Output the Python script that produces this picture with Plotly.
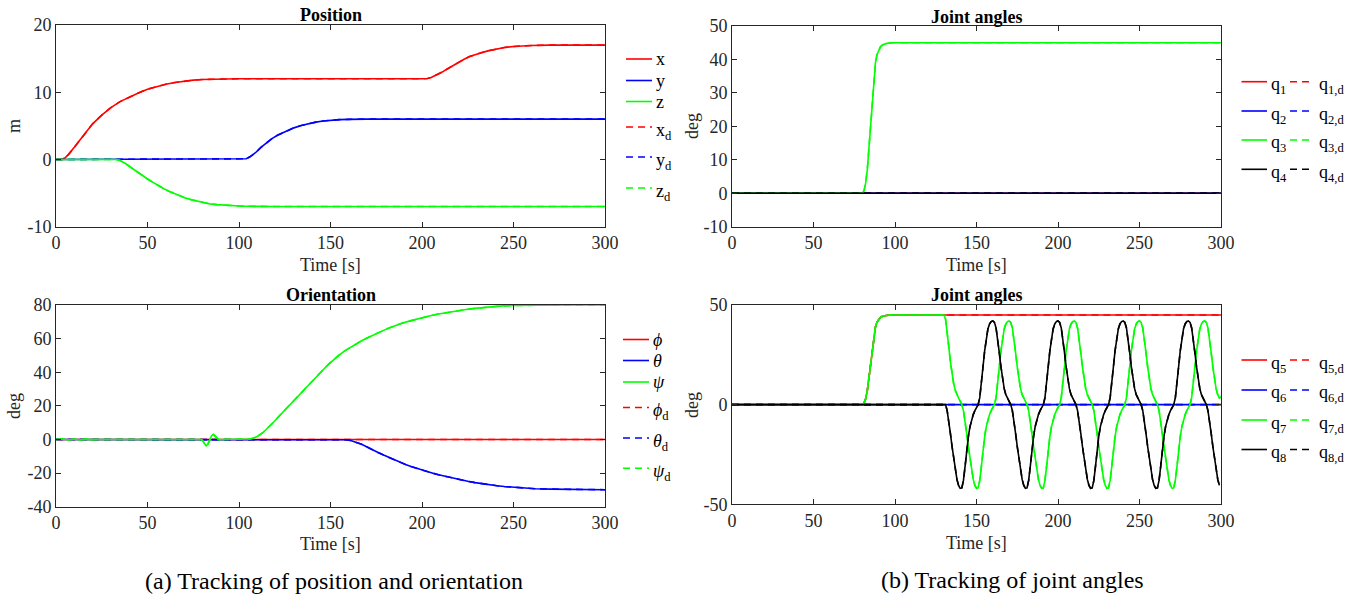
import plotly.graph_objects as go

W, H = 1361, 599
FONT = "Liberation Serif"
AXC = "#262626"
RED, BLUE, GREEN, BLACK = "#ff0000", "#0000ff", "#00ff00", "#000000"

# ---------------- data: Position ----------------
t_x = [0, 3, 5, 7, 10, 13, 16, 20, 25, 30, 35, 40, 45, 50, 55, 60, 65, 70, 75, 80, 90, 100,
       200, 203, 205, 208, 211, 214, 217, 220, 223, 226, 229, 232, 236, 240, 245, 250, 255, 260, 270, 300]
pos_x = [0, 0, 0.25, 0.8, 1.8, 2.9, 4.0, 5.3, 6.6, 7.7, 8.6, 9.3, 9.9, 10.45, 10.85, 11.2, 11.45, 11.65, 11.8, 11.9, 11.97, 12,
         12, 12.05, 12.2, 12.55, 13.0, 13.5, 14.0, 14.45, 14.9, 15.3, 15.6, 15.85, 16.15, 16.4, 16.65, 16.8, 16.9, 16.96, 17, 17]
t_y = [0, 102, 104, 106, 109, 112, 115, 118, 121, 124, 127, 130, 134, 138, 142, 146, 150, 155, 160, 170, 300]
pos_y = [0, 0, 0.1, 0.4, 1.0, 1.8, 2.5, 3.1, 3.6, 4.0, 4.4, 4.7, 5.05, 5.35, 5.55, 5.72, 5.83, 5.92, 5.97, 6, 6]
t_z = [0, 33, 35, 38, 41, 44, 47, 50, 53, 56, 59, 62, 65, 68, 71, 74, 77, 80, 84, 88, 94, 100, 110, 120, 300]
pos_z = [0, 0, -0.15, -0.6, -1.2, -1.8, -2.4, -2.9, -3.4, -3.9, -4.35, -4.75, -5.1, -5.45, -5.75, -6.0, -6.2, -6.4,
         -6.6, -6.72, -6.85, -6.92, -6.98, -7, -7]

# ---------------- data: Orientation ----------------
t_phi = [0, 300]
phi = [0, 0]
t_theta = [0, 30, 33, 36, 40, 43, 155, 158, 161, 164, 167, 170, 173, 176, 179, 182, 185, 188, 191, 194, 197, 200,
           203, 206, 209, 212, 215, 218, 221, 225, 229, 233, 237, 241, 245, 250, 256, 262, 270, 280, 290, 300]
theta = [0, 0, -0.3, -0.4, -0.1, 0, 0, -0.2, -0.6, -1.6, -2.9, -4.5, -6.3, -7.8, -9.3, -10.8, -12.3, -13.6, -14.9,
         -16.1, -17.2, -18.2, -19.2, -20.1, -21.0, -21.8, -22.6, -23.4, -24.1, -24.9, -25.7, -26.4, -27.0, -27.5,
         -28.0, -28.5, -28.95, -29.3, -29.55, -29.75, -29.85, -29.9]
t_psi = [0, 4, 7, 10, 13, 16, 19, 22, 79, 80, 81, 82, 83, 84, 85, 86, 87, 88, 89, 90, 104, 106, 108, 110, 113, 116,
         119, 122, 125, 128, 131, 134, 137, 140, 143, 146, 149, 152, 155, 158, 161, 164, 167, 170, 173, 176, 179, 182,
         185, 189, 193, 197, 201, 205, 209, 214, 219, 224, 229, 234, 239, 244, 250, 256, 265, 280, 300]
psi = [0, 0.3, -0.3, 0.3, -0.3, 0.2, -0.1, 0, 0, -0.4, -2.2, -3.8, -2.8, -0.2, 2.2, 3.0, 2.0, 0.6, -0.2, 0, 0, 0.3,
       0.9, 1.8, 4.0, 7.0, 10.4, 14.0, 17.5, 21.0, 24.5, 27.8, 31.2, 34.6, 38.0, 41.5, 44.8, 47.8, 50.5, 52.9, 55.0,
       56.9, 58.7, 60.4, 62.0, 63.5, 64.9, 66.3, 67.6, 69.1, 70.4, 71.6, 72.7, 73.7, 74.6, 75.6, 76.5, 77.3, 78.0,
       78.6, 79.1, 79.45, 79.7, 79.85, 79.95, 80, 80]

# ---------------- data: Joint angles q1..q4 ----------------
t_flat = [0, 300]
q1 = [0, 0]
q2 = [0, 0]
q4 = [0, 0]
t_q3 = [0, 80, 81, 82, 83, 84, 85, 86, 87, 88, 89, 90, 91, 92, 93, 95, 98, 300]
q3 = [0, 0, 0.8, 3, 7, 13.5, 21.5, 29, 35, 39, 41.5, 42.8, 43.7, 44.2, 44.5, 44.8, 45, 45]

# ---------------- data: Joint angles q5..q8 ----------------
t_q5 = [0, 80, 81, 82, 83, 84, 85, 86, 87, 88, 89, 90, 91, 92, 93, 95, 98, 300]
q5 = [0, 0, 0.8, 3, 7, 13.5, 21.5, 29, 35, 39, 41.5, 42.8, 43.7, 44.2, 44.5, 44.8, 45, 45]
q6 = [0, 0]
t_q7 = [0, 80, 81, 82, 83, 84, 85, 86, 87, 88, 89, 90, 91, 92, 93, 95, 98] + list(range(130, 301))
q7 = [0, 0, 0.8, 3, 7, 13.5, 21.5, 29, 35, 39, 41.5, 42.8, 43.7, 44.2, 44.5, 44.8, 45,
      45, 43, 37, 29, 21.5, 15, 10.5, 7.2, 5, 3.3, 1.8,
      0, -3, -8, -14.5, -21, -27.5, -33, -37.5, -40.5, -42, -41.8, -38, -31, -23, -16, -11, -7.5, -5, -3, -1.5,
      0, 3.5, 10, 19, 27, 33.5, 38, 40.5, 41.7, 42, 41.3, 38.5, 33, 26, 19, 12.5, 8, 5, 3.2, 1.8,
      0, -3, -8, -14.5, -21, -27.5, -33, -37.5, -40.5, -42, -41.8, -38, -31, -23, -16, -11, -7.5, -5, -3, -1.5,
      0, 3.5, 10, 19, 27, 33.5, 38, 40.5, 41.7, 42, 41.3, 38.5, 33, 26, 19, 12.5, 8, 5, 3.2, 1.8,
      0, -3, -8, -14.5, -21, -27.5, -33, -37.5, -40.5, -42, -41.8, -38, -31, -23, -16, -11, -7.5, -5, -3, -1.5,
      0, 3.5, 10, 19, 27, 33.5, 38, 40.5, 41.7, 42, 41.3, 38.5, 33, 26, 19, 12.5, 8, 5, 3.2, 1.8,
      0, -3, -8, -14.5, -21, -27.5, -33, -37.5, -40.5, -42, -41.8, -38, -31, -23, -16, -11, -7.5, -5, -3, -1.5,
      0, 3.5, 10, 19, 27, 33.5, 38, 40.5, 41.7, 42, 41.3, 38.5, 33, 26, 19, 12.5, 8, 5, 3.2, 3.9]
t_q8 = [0] + list(range(130, 301))
q8 = [0, 0,
      0, -3, -8, -14.5, -21, -27.5, -33, -37.5, -40.5, -42, -41.8, -38, -31, -23, -16, -11, -7.5, -5, -3, -1.5,
      0, 3.5, 10, 19, 27, 33.5, 38, 40.5, 41.7, 42, 41.3, 38.5, 33, 26, 19, 12.5, 8, 5, 3.2, 1.8,
      0, -3, -8, -14.5, -21, -27.5, -33, -37.5, -40.5, -42, -41.8, -38, -31, -23, -16, -11, -7.5, -5, -3, -1.5,
      0, 3.5, 10, 19, 27, 33.5, 38, 40.5, 41.7, 42, 41.3, 38.5, 33, 26, 19, 12.5, 8, 5, 3.2, 1.8,
      0, -3, -8, -14.5, -21, -27.5, -33, -37.5, -40.5, -42, -41.8, -38, -31, -23, -16, -11, -7.5, -5, -3, -1.5,
      0, 3.5, 10, 19, 27, 33.5, 38, 40.5, 41.7, 42, 41.3, 38.5, 33, 26, 19, 12.5, 8, 5, 3.2, 1.8,
      0, -3, -8, -14.5, -21, -27.5, -33, -37.5, -40.5, -42, -41.8, -38, -31, -23, -16, -11, -7.5, -5, -3, -1.5,
      0, 3.5, 10, 19, 27, 33.5, 38, 40.5, 41.7, 42, 41.3, 38.5, 33, 26, 19, 12.5, 8, 5, 3.2, 1.8,
      0, -3, -8, -14.5, -21, -27.5, -33, -37.5, -40.5, -41.5][:171]

# ---------------- tick labels ----------------
x_ticks = [0, 50, 100, 150, 200, 250, 300]
x_tick_text = ["0", "50", "100", "150", "200", "250", "300"]
pos_ticks = [-10, 0, 10, 20]
pos_tick_text = ["-10", "0", "10", "20"]
ori_ticks = [-40, -20, 0, 20, 40, 60, 80]
ori_tick_text = ["-40", "-20", "0", "20", "40", "60", "80"]
ja1_ticks = [-10, 0, 10, 20, 30, 40, 50]
ja1_tick_text = ["-10", "0", "10", "20", "30", "40", "50"]
ja2_ticks = [-50, 0, 50]
ja2_tick_text = ["-50", "0", "50"]

# ---------------- series definitions ----------------
panel_pos = [("x", t_x, pos_x, RED), ("y", t_y, pos_y, BLUE), ("z", t_z, pos_z, GREEN)]
panel_ori = [("<i>ϕ</i>", t_phi, phi, RED), ("<i>θ</i>", t_theta, theta, BLUE), ("<i>ψ</i>", t_psi, psi, GREEN)]
panel_ja1 = [("1", t_flat, q1, RED), ("2", t_flat, q2, BLUE), ("3", t_q3, q3, GREEN), ("4", t_flat, q4, BLACK)]
panel_ja2 = [("5", t_q5, q5, RED), ("6", t_flat, q6, BLUE), ("7", t_q7, q7, GREEN), ("8", t_q8, q8, BLACK)]

LW = 1.6
DASH = "7px,5px"

fig = go.Figure()


def add_series(series, xa, ya):
    for name, t, v, c in series:
        fig.add_trace(go.Scatter(x=t, y=v, mode="lines", line=dict(color=c, width=LW),
                                 xaxis=xa, yaxis=ya, showlegend=False, hoverinfo="skip"))
        # desired trajectory (tracked exactly)
        fig.add_trace(go.Scatter(x=t, y=v, mode="lines", line=dict(color=c, width=LW, dash=DASH),
                                 xaxis=xa, yaxis=ya, showlegend=False, hoverinfo="skip"))


add_series(panel_pos, "x", "y")
add_series(panel_ori, "x2", "y2")
add_series(panel_ja1, "x3", "y3")
add_series(panel_ja2, "x4", "y4")


def px(x):
    return x / W


def py(y):
    return 1 - y / H


def xaxis(dom, anchor):
    return dict(domain=[px(dom[0]), px(dom[1])], range=[0, 300], anchor=anchor, automargin=False,
                tickmode="array", tickvals=x_ticks, ticktext=x_tick_text,
                ticks="inside", ticklen=5, tickwidth=1, tickcolor=AXC,
                showline=True, linecolor=AXC, linewidth=1, mirror="ticks",
                showgrid=False, zeroline=False,
                tickfont=dict(family=FONT, size=18, color=AXC))


def yaxis(dom, anchor, rng, tv, tt):
    return dict(domain=[py(dom[1]), py(dom[0])], range=rng, anchor=anchor, automargin=False,
                tickmode="array", tickvals=tv, ticktext=tt,
                ticks="inside", ticklen=5, tickwidth=1, tickcolor=AXC,
                showline=True, linecolor=AXC, linewidth=1, mirror="ticks",
                showgrid=False, zeroline=False,
                tickfont=dict(family=FONT, size=18, color=AXC))


LX = [56, 605]
RX = [732, 1221]
fig.update_layout(
    xaxis=xaxis(LX, "y"), yaxis=yaxis([25, 226.7], "x", [-10, 20], pos_ticks, pos_tick_text),
    xaxis2=xaxis(LX, "y2"), yaxis2=yaxis([305, 506.7], "x2", [-40, 80], ori_ticks, ori_tick_text),
    xaxis3=xaxis(RX, "y3"), yaxis3=yaxis([26, 226.7], "x3", [-10, 50], ja1_ticks, ja1_tick_text),
    xaxis4=xaxis(RX, "y4"), yaxis4=yaxis([305, 504.3], "x4", [-50, 50], ja2_ticks, ja2_tick_text),
)

ann = []
shapes = []


def text(x, y, s, size=18, color="black", angle=0, xanchor="center", yshift=0):
    ann.append(dict(x=px(x), y=py(y), xref="paper", yref="paper", text=s, showarrow=False,
                    xanchor=xanchor, yanchor="middle", textangle=angle, yshift=yshift,
                    font=dict(family=FONT, size=size, color=color)))


def seg(x0, x1, y, color, dash="solid"):
    shapes.append(dict(type="line", xref="paper", yref="paper", x0=px(x0), x1=px(x1), y0=py(y), y1=py(y),
                       line=dict(color=color, width=LW, dash=dash)))


# titles
text(330.5, 15, "<b>Position</b>")
text(330.5, 295, "<b>Orientation</b>")
text(976.5, 16.5, "<b>Joint angles</b>")
text(976.5, 295, "<b>Joint angles</b>")
# axis titles
text(330.5, 265, "Time [s]", color=AXC)
text(330.5, 544, "Time [s]", color=AXC)
text(976.5, 265, "Time [s]", color=AXC)
text(976.5, 543, "Time [s]", color=AXC)
text(14, 126, "m", angle=-90, color=AXC)
text(14, 406, "deg", angle=-90, color=AXC)
text(692, 126, "deg", angle=-90, color=AXC)
text(692, 405, "deg", angle=-90, color=AXC)
# captions
text(334, 581, "(a) Tracking of position and orientation", size=24)
text(1012, 580, "(b) Tracking of joint angles", size=24)

# legends (left panels)
rows_pos = [59, 80.5, 101.5, 127, 157, 188]
for i, (name, t, v, c) in enumerate(panel_pos):
    seg(626, 652, rows_pos[i], c)
    text(654, rows_pos[i], name, xanchor="left")
    seg(626, 652, rows_pos[i + 3], c, DASH)
    text(654, rows_pos[i + 3], name + "<sub>d</sub>", xanchor="left", yshift=-4)
rows_ori = [339.5, 360.5, 382, 407.5, 438, 468.3]
for i, (name, t, v, c) in enumerate(panel_ori):
    seg(623, 649, rows_ori[i], c)
    text(651, rows_ori[i], name, xanchor="left")
    seg(623, 649, rows_ori[i + 3], c, DASH)
    text(651, rows_ori[i + 3], name + "<sub>d</sub>", xanchor="left", yshift=-4)

# legends (right panels)
for rows, panel in (([81.7, 111, 140, 169.3], panel_ja1), ([360, 390, 420, 449.5], panel_ja2)):
    for i, (idx, t, v, c) in enumerate(panel):
        seg(1241.5, 1267, rows[i], c)
        text(1268.5, rows[i], "q<sub>%s</sub>" % idx, xanchor="left", yshift=-4)
        seg(1290, 1311, rows[i], c, DASH)
        text(1317, rows[i], "q<sub>%s,d</sub>" % idx, xanchor="left", yshift=-4)

fig.update_layout(
    width=W, height=H, autosize=False,
    margin=dict(l=0, r=0, t=0, b=0, pad=0, autoexpand=False),
    paper_bgcolor="white", plot_bgcolor="white",
    annotations=ann, shapes=shapes,
    font=dict(family=FONT, size=18, color=AXC),
    showlegend=False,
)

# remove the default page margin so that the 1361x599 figure fills the window exactly
fig.write_html("out.html", config={"displayModeBar": False},
               post_script="document.body.style.margin='0px';document.body.style.overflow='hidden';")
